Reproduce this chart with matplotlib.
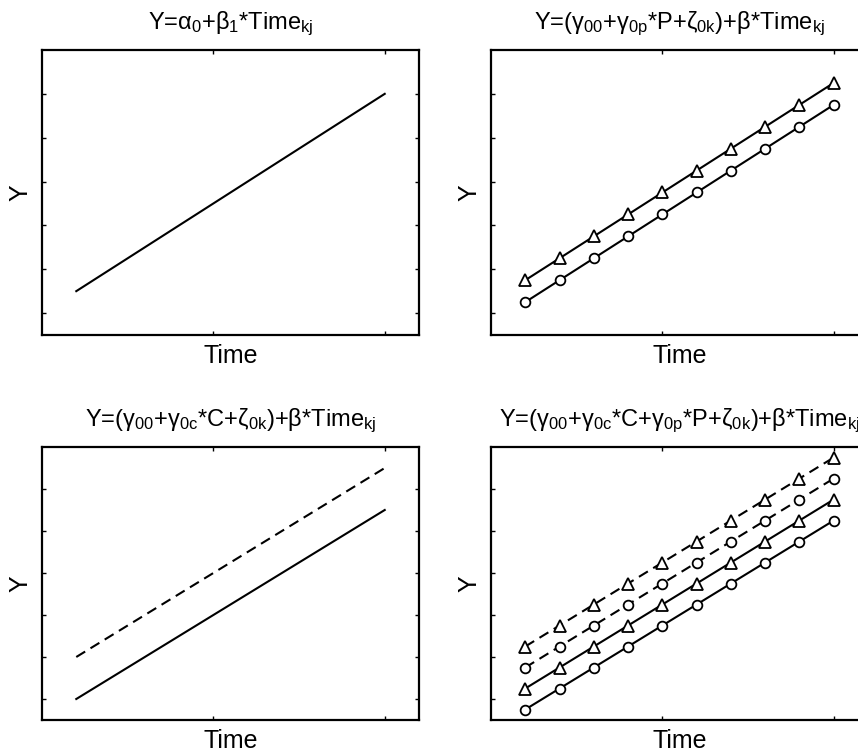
import matplotlib
matplotlib.use("Agg")
import matplotlib.pyplot as plt

plt.rcParams['font.family'] = ['Liberation Sans', 'DejaVu Sans']
plt.rcParams['mathtext.default'] = 'regular'

## values

time = [1, 2, 3, 4, 5, 6, 7, 8, 9, 10]

# panel 1: one line
y_single = [1.5, 2.0, 2.5, 3.0, 3.5, 4.0, 4.5, 5.0, 5.5, 6.0]

# panel 2: two groups (circles / triangles)
y2_circ = [1.25, 1.75, 2.25, 2.75, 3.25, 3.75, 4.25, 4.75, 5.25, 5.75]
y2_tri = [1.75, 2.25, 2.75, 3.25, 3.75, 4.25, 4.75, 5.25, 5.75, 6.25]

# panel 3: solid / dashed
y3_solid = [1.0, 1.5, 2.0, 2.5, 3.0, 3.5, 4.0, 4.5, 5.0, 5.5]
y3_dash = [2.0, 2.5, 3.0, 3.5, 4.0, 4.5, 5.0, 5.5, 6.0, 6.5]

# panel 4: both
y4_circ_solid = [0.75, 1.25, 1.75, 2.25, 2.75, 3.25, 3.75, 4.25, 4.75, 5.25]
y4_tri_solid = [1.25, 1.75, 2.25, 2.75, 3.25, 3.75, 4.25, 4.75, 5.25, 5.75]
y4_circ_dash = [1.75, 2.25, 2.75, 3.25, 3.75, 4.25, 4.75, 5.25, 5.75, 6.25]
y4_tri_dash = [2.25, 2.75, 3.25, 3.75, 4.25, 4.75, 5.25, 5.75, 6.25, 6.75]

titles = [r'Y=α$_0$+β$_1$*Time$_{kj}$',
          r'Y=(γ$_{00}$+γ$_{0p}$*P+ζ$_{0k}$)+β*Time$_{kj}$',
          r'Y=(γ$_{00}$+γ$_{0c}$*C+ζ$_{0k}$)+β*Time$_{kj}$',
          r'Y=(γ$_{00}$+γ$_{0c}$*C+γ$_{0p}$*P+ζ$_{0k}$)+β*Time$_{kj}$']

W, H = 858, 752
fig = plt.figure(figsize=(W/100, H/100), dpi=100)

boxes = [(42, 50, 335), (491, 50, 335), (42, 447, 720), (491, 447, 720)]
axes = []
for (x0, top, bot) in boxes:
    ax = fig.add_axes([x0/W, 1 - bot/H, 377/W, (bot - top)/H])
    axes.append(ax)

lw = 1.5
dash = (0, (5, 3))
mk = dict(markersize=7, markerfacecolor='white', markeredgecolor='black', markeredgewidth=1.3)
tk = dict(markersize=9, markerfacecolor='white', markeredgecolor='black', markeredgewidth=1.3)

axes[0].plot(time, y_single, 'k-', lw=lw)

axes[1].plot(time, y2_circ, 'k-', marker='o', lw=lw, **mk)
axes[1].plot(time, y2_tri, 'k-', marker='^', lw=lw, **tk)

axes[2].plot(time, y3_solid, 'k-', lw=lw)
axes[2].plot(time, y3_dash, color='k', ls=dash, lw=lw)

axes[3].plot(time, y4_circ_solid, 'k-', marker='o', lw=lw, **mk)
axes[3].plot(time, y4_tri_solid, 'k-', marker='^', lw=lw, **tk)
axes[3].plot(time, y4_circ_dash, color='k', ls=dash, marker='o', lw=lw, **mk)
axes[3].plot(time, y4_tri_dash, color='k', ls=dash, marker='^', lw=lw, **tk)

fs = 18
for ax, t in zip(axes, titles):
    ax.set_xlim(0, 11)
    ax.set_ylim(0.5, 7)
    ax.set_xticks([5, 10])
    ax.set_yticks([1, 2, 3, 4, 5, 6])
    ax.set_xticklabels([])
    ax.set_yticklabels([])
    ax.tick_params(direction='in', top=True, right=True, length=3, width=1)
    for s in ax.spines.values():
        s.set_linewidth(1.6)
    ax.set_title(t, fontsize=17, pad=15)
    ax.set_xlabel('Time', fontsize=fs, labelpad=3)
    ax.set_ylabel('Y', fontsize=fs, labelpad=3)
    for m in ax.lines:
        m.set_clip_on(False)

fig.savefig('out.png', dpi=100)
